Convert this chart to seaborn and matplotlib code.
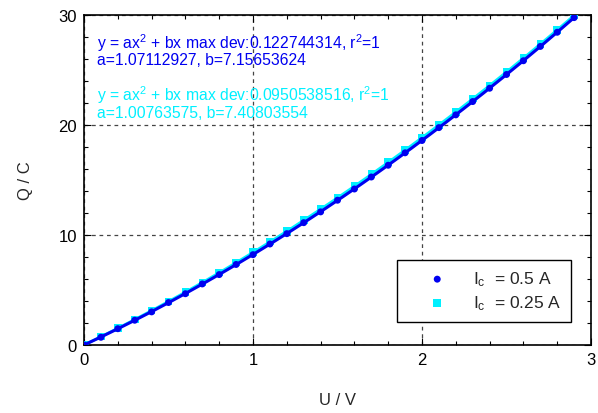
import numpy as np
import pandas as pd
import matplotlib
matplotlib.use("Agg")
import matplotlib.pyplot as plt
from matplotlib.ticker import MultipleLocator
import seaborn as sns

# Measured charge vs. voltage for two charging currents
voltage = [0.0, 0.1, 0.2, 0.3, 0.4, 0.5, 0.6, 0.7, 0.8, 0.9,
           1.0, 1.1, 1.2, 1.3, 1.4, 1.5, 1.6, 1.7, 1.8, 1.9,
           2.0, 2.1, 2.2, 2.3, 2.4, 2.5, 2.6, 2.7, 2.8, 2.9]
charge_05 = [0.00, 0.70, 1.48, 2.25, 3.01, 3.86, 4.66, 5.55, 6.40, 7.32,
             8.21, 9.18, 10.12, 11.12, 12.10, 13.16, 14.18, 15.27, 16.34, 17.47,
             18.59, 19.76, 20.92, 22.13, 23.34, 24.59, 25.84, 27.14, 28.43, 29.76]
charge_025 = [0.00, 0.78, 1.53, 2.33, 3.14, 3.97, 4.83, 5.69, 6.59, 7.50,
              8.43, 9.39, 10.36, 11.35, 12.37, 13.40, 14.45, 15.52, 16.62, 17.73,
              18.86, 20.02, 21.19, 22.39, 23.60, 24.84, 26.09, 27.36, 28.66, 29.97]

# Quadratic fit coefficients (Q = a U^2 + b U)
a_05, b_05, dev_05 = 1.07112927, 7.15653624, "0.122744314"
a_025, b_025, dev_025 = 1.00763575, 7.40803554, "0.0950538516"

label_05 = "I$_c$  = 0.5 A"
label_025 = "I$_c$  = 0.25 A"

BLUE = "#0000f0"
CYAN = "#00f0ff"

sns.set_theme(style="ticks")
plt.rcParams["font.family"] = ["Liberation Sans", "DejaVu Sans"]
plt.rcParams["mathtext.fontset"] = "custom"
plt.rcParams["mathtext.rm"] = "Liberation Sans"
plt.rcParams["mathtext.it"] = "Liberation Sans"
plt.rcParams["mathtext.default"] = "rm"

df05 = pd.DataFrame({"U": voltage, "Q": charge_05})
df025 = pd.DataFrame({"U": voltage, "Q": charge_025})
u_fit = np.linspace(0, 2.9, 200)
fit05 = pd.DataFrame({"U": u_fit, "Q": a_05 * u_fit**2 + b_05 * u_fit})
fit025 = pd.DataFrame({"U": u_fit, "Q": a_025 * u_fit**2 + b_025 * u_fit})

fig = plt.figure(figsize=(5.98, 4.14), dpi=100)
ax = fig.add_axes([0.1405, 0.1643, 0.8478, 0.7971])

sns.lineplot(data=fit025, x="U", y="Q", ax=ax, color=CYAN, lw=2, zorder=3)
sns.scatterplot(data=df025, x="U", y="Q", ax=ax, color=CYAN, marker="s",
                s=30, edgecolor="none", zorder=4, label=label_025)
sns.lineplot(data=fit05, x="U", y="Q", ax=ax, color=BLUE, lw=2.2, zorder=5)
sns.scatterplot(data=df05, x="U", y="Q", ax=ax, color=BLUE, marker="o",
                s=25, edgecolor="none", zorder=6, label=label_05)

ax.set_xlim(0, 3)
ax.set_ylim(0, 30)
ax.xaxis.set_major_locator(MultipleLocator(1))
ax.xaxis.set_minor_locator(MultipleLocator(0.2))
ax.yaxis.set_major_locator(MultipleLocator(10))
ax.yaxis.set_minor_locator(MultipleLocator(2))
ax.tick_params(which="both", direction="in", top=True, right=True,
               colors="black", labelsize=12, width=0.8)
ax.tick_params(which="major", length=5, pad=5)
ax.tick_params(which="minor", length=3)
for s in ax.spines.values():
    s.set_color("black")
    s.set_linewidth(1.2)
ax.grid(True, which="major", ls=(0, (3, 3)), color="#444444", lw=0.9)
ax.set_axisbelow(True)

ax.set_xlabel("U / V", fontsize=12, labelpad=18)
ax.set_ylabel("Q / C", fontsize=12, labelpad=18)

fs = 11.3
ax.text(0.025, 0.899, f"y = ax$^2$ + bx max dev:{dev_05}, r$^2$=1",
        transform=ax.transAxes, color=BLUE, fontsize=fs, va="baseline")
ax.text(0.025, 0.851, f"a={a_05:.8f}, b={b_05:.8f}",
        transform=ax.transAxes, color=BLUE, fontsize=fs, va="baseline")
ax.text(0.025, 0.742, f"y = ax$^2$ + bx max dev:{dev_025}, r$^2$=1",
        transform=ax.transAxes, color=CYAN, fontsize=fs, va="baseline")
ax.text(0.025, 0.691, f"a={a_025:.8f}, b={b_025:.8f}",
        transform=ax.transAxes, color=CYAN, fontsize=fs, va="baseline")

h, l = ax.get_legend_handles_labels()
order = [l.index(label_05), l.index(label_025)]
leg = ax.legend([h[i] for i in order], [l[i] for i in order],
                loc="lower right", bbox_to_anchor=(0.96, 0.07),
                fontsize=12.5, frameon=True, fancybox=False, edgecolor="black",
                framealpha=1, borderpad=0.55, handletextpad=0.3,
                borderaxespad=0, labelspacing=0.3, markerscale=1.0,
                handlelength=3.5)
leg.get_frame().set_linewidth(1.0)

fig.savefig("out.png", dpi=100)
